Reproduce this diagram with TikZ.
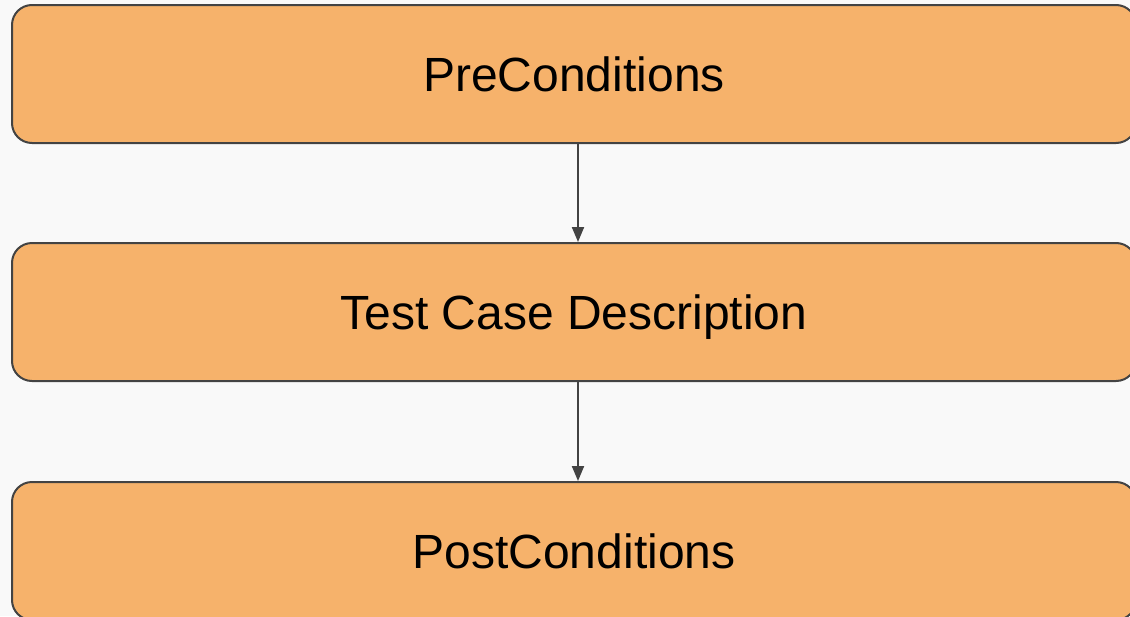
\documentclass[tikz,border=0pt]{standalone}
\usepackage{fontspec}
\setmainfont{Liberation Sans}
\usetikzlibrary{arrows.meta}
\definecolor{bg}{HTML}{F9F9F9}
\definecolor{boxfill}{HTML}{F6B26B}
\definecolor{edge}{HTML}{434343}
\begin{document}
\begin{tikzpicture}[x=1pt,y=-1pt,
  stagebox/.style={draw=edge, line width=2pt, fill=boxfill, rounded corners=20pt,
    minimum width=1124pt, minimum height=138pt, inner sep=0pt,
    text height=34pt, text depth=0pt,
    font=\fontsize{48}{56}\selectfont, text=black},
  link/.style={draw=edge, line width=2pt, -{Triangle[width=12pt,length=15pt]}}]
\useasboundingbox[fill=bg] (0,0) rectangle (1130,616);
\node[stagebox] (pre) at (574,74) {PreConditions};
\node[stagebox] (desc) at (574,312) {Test Case Description};
\node[stagebox] (post) at (574,551) {PostConditions};
\coordinate (ax) at (578,0);
\draw[link] (pre.south -| ax) -- (desc.north -| ax);
\draw[link] (desc.south -| ax) -- (post.north -| ax);
\end{tikzpicture}
\end{document}
